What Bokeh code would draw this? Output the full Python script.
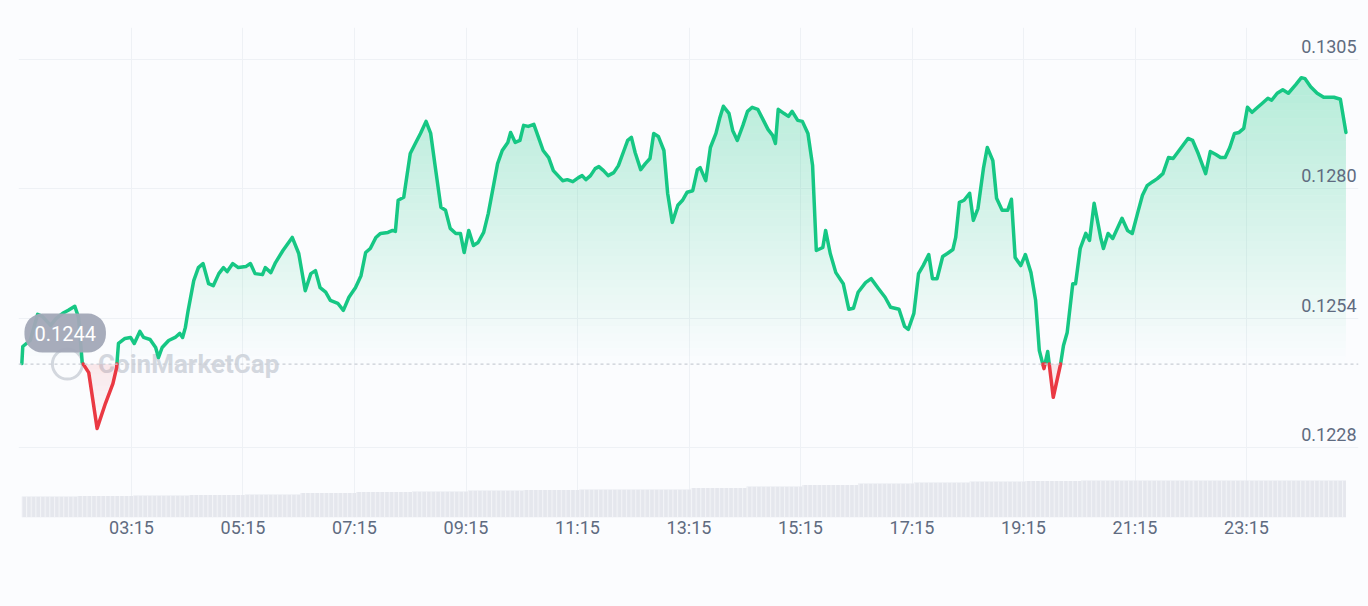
import numpy as np
from bokeh.plotting import figure
from bokeh.models import Range1d, FixedTicker, Span, Label, Grid
from bokeh.core.properties import value
from bokeh.embed import file_html
from bokeh.resources import INLINE

# ---------------- data ----------------
# time in minutes after 00:00 of the first day (values > 1440 are the next day)
t_min = [
    77, 78, 86, 94, 99, 108, 114, 121, 127, 134, 138, 142, 149, 158, 167, 175, 179, 181, 188, 194,
    198, 204, 208, 215, 221, 224, 228, 235, 242, 247, 250, 253, 256, 262, 267, 272, 278, 283, 289, 294,
    298, 304, 310, 318, 323, 328, 336, 339, 345, 350, 358, 368, 375, 382, 388, 393, 398, 404, 409, 417,
    423, 429, 436, 442, 447, 452, 458, 463, 471, 476, 479, 482, 488, 495, 501, 506, 512, 517, 522, 528,
    533, 538, 544, 549, 553, 558, 563, 568, 574, 579, 585, 589, 594, 600, 603, 608, 613, 617, 622, 628,
    633, 638, 644, 649, 659, 664, 670, 676, 680, 684, 689, 694, 698, 703, 708, 714, 719, 725, 729, 733,
    737, 743, 748, 753, 757, 762, 768, 772, 777, 783, 788, 793, 799, 804, 807, 813, 818, 824, 828, 832,
    838, 842, 847, 853, 858, 863, 869, 874, 880, 885, 888, 891, 897, 902, 906, 912, 917, 923, 928, 932,
    939, 942, 947, 953, 961, 967, 972, 977, 985, 991, 999, 1006, 1012, 1021, 1027, 1031, 1037, 1042, 1047, 1053,
    1057, 1062, 1068, 1073, 1079, 1082, 1086, 1091, 1097, 1101, 1106, 1112, 1116, 1122, 1126, 1132, 1138, 1142, 1146, 1152,
    1157, 1163, 1168, 1172, 1177, 1181, 1187, 1195, 1198, 1202, 1208, 1211, 1216, 1222, 1226, 1231, 1238, 1241, 1246, 1251,
    1261, 1267, 1272, 1278, 1283, 1288, 1294, 1299, 1305, 1311, 1316, 1324, 1332, 1337, 1343, 1351, 1356, 1362, 1367, 1372,
    1377, 1382, 1387, 1392, 1396, 1401, 1407, 1412, 1418, 1422, 1428, 1434, 1440, 1448, 1454, 1458, 1464, 1471, 1478, 1489,
    1496, 1502,
]
price = [
    0.12450, 0.12484, 0.12496, 0.12548, 0.12544, 0.12526, 0.12540, 0.12550, 0.12556, 0.12564,
    0.12542, 0.12452, 0.12432, 0.12321, 0.12371, 0.12410, 0.12442, 0.12490, 0.12500, 0.12502,
    0.12490, 0.12514, 0.12502, 0.12498, 0.12482, 0.12462, 0.12482, 0.12496, 0.12502, 0.12510,
    0.12502, 0.12522, 0.12556, 0.12615, 0.12641, 0.12649, 0.12609, 0.12605, 0.12629, 0.12641,
    0.12633, 0.12649, 0.12641, 0.12643, 0.12649, 0.12629, 0.12627, 0.12641, 0.12631, 0.12651,
    0.12675, 0.12701, 0.12669, 0.12595, 0.12629, 0.12635, 0.12601, 0.12592, 0.12576, 0.12570,
    0.12556, 0.12582, 0.12601, 0.12625, 0.12671, 0.12679, 0.12701, 0.12709, 0.12711, 0.12715,
    0.12713, 0.12775, 0.12781, 0.12868, 0.12890, 0.12908, 0.12932, 0.12908, 0.12840, 0.12761,
    0.12755, 0.12719, 0.12709, 0.12709, 0.12671, 0.12715, 0.12685, 0.12691, 0.12711, 0.12749,
    0.12808, 0.12848, 0.12874, 0.12890, 0.12910, 0.12890, 0.12894, 0.12924, 0.12922, 0.12926,
    0.12900, 0.12874, 0.12860, 0.12834, 0.12814, 0.12816, 0.12812, 0.12820, 0.12824, 0.12816,
    0.12824, 0.12838, 0.12842, 0.12834, 0.12824, 0.12830, 0.12844, 0.12874, 0.12894, 0.12900,
    0.12870, 0.12836, 0.12848, 0.12858, 0.12908, 0.12902, 0.12874, 0.12789, 0.12731, 0.12765,
    0.12775, 0.12791, 0.12794, 0.12836, 0.12840, 0.12814, 0.12880, 0.12908, 0.12938, 0.12962,
    0.12948, 0.12914, 0.12894, 0.12924, 0.12952, 0.12960, 0.12956, 0.12938, 0.12916, 0.12904,
    0.12888, 0.12956, 0.12948, 0.12942, 0.12952, 0.12934, 0.12932, 0.12908, 0.12844, 0.12675,
    0.12681, 0.12715, 0.12669, 0.12631, 0.12609, 0.12558, 0.12560, 0.12592, 0.12611, 0.12619,
    0.12599, 0.12582, 0.12562, 0.12558, 0.12524, 0.12518, 0.12550, 0.12629, 0.12645, 0.12667,
    0.12619, 0.12619, 0.12663, 0.12669, 0.12677, 0.12701, 0.12771, 0.12775, 0.12789, 0.12735,
    0.12759, 0.12840, 0.12880, 0.12854, 0.12779, 0.12755, 0.12755, 0.12777, 0.12661, 0.12645,
    0.12667, 0.12631, 0.12576, 0.12476, 0.12440, 0.12474, 0.12383, 0.12450, 0.12486, 0.12512,
    0.12609, 0.12609, 0.12679, 0.12709, 0.12695, 0.12769, 0.12701, 0.12679, 0.12709, 0.12699,
    0.12739, 0.12715, 0.12709, 0.12751, 0.12785, 0.12804, 0.12812, 0.12818, 0.12828, 0.12860,
    0.12858, 0.12878, 0.12898, 0.12894, 0.12868, 0.12828, 0.12872, 0.12866, 0.12860, 0.12860,
    0.12880, 0.12908, 0.12910, 0.12918, 0.12960, 0.12950, 0.12960, 0.12968, 0.12978, 0.12974,
    0.12988, 0.12995, 0.12988, 0.13005, 0.13019, 0.13017, 0.13001, 0.12988, 0.12980, 0.12980,
    0.12976, 0.12910,
]
# hourly traded volume (arbitrary units)
volume_hourly = [21, 21.5, 22, 22.5, 23, 24.5, 25.5, 26, 27, 27.5, 28, 28,
                 29.5, 31, 32.5, 34, 35, 36, 36.5, 37, 37, 37, 37, 37]

baseline_price = 0.12449
baseline_label = "0.1244"

x_ticks = [195, 315, 435, 555, 675, 795, 915, 1035, 1155, 1275, 1395]
x_labels = ["03:15", "05:15", "07:15", "09:15", "11:15", "13:15",
            "15:15", "17:15", "19:15", "21:15", "23:15"]
y_ticks = [0.12283, 0.12540, 0.12798, 0.13055]
y_labels = ["0.1228", "0.1254", "0.1280", "0.1305"]

# ---------------- style ----------------
BG = "#fbfcfe"
GREEN = "#16c784"
RED = "#ea3943"
GRID = "#eef1f5"
LABEL = "#5f6b80"
WM = "#d3d7de"

X0, X1 = 73.4, 1515.5
Y0, Y1 = 0.121437, 0.131188

p = figure(width=1366, height=600, output_backend="svg", toolbar_location=None,
           x_range=Range1d(X0, X1), y_range=Range1d(Y0, Y1),
           y_axis_location=None,
           min_border_left=18, min_border_right=8, min_border_top=27, min_border_bottom=83,
           background_fill_color=BG, border_fill_color=BG, outline_line_color=None)

p.xaxis.ticker = FixedTicker(ticks=x_ticks)
p.xaxis.major_label_overrides = dict(zip(x_ticks, x_labels))
p.xaxis.axis_line_color = None
p.xaxis.major_tick_line_color = None
p.xaxis.minor_tick_line_color = None
p.xaxis.major_tick_out = 0
p.xaxis.major_tick_in = 0
p.xaxis.major_label_standoff = -1
p.xaxis.major_label_text_font = "Roboto"
p.xaxis.major_label_text_font_size = "18px"
p.xaxis.major_label_text_color = LABEL

# keep only the x grid created by figure, then add the price grid
p.center = [r for r in p.center if not (isinstance(r, Grid) and r.dimension == 1)]
p.xgrid.ticker = FixedTicker(ticks=x_ticks)
p.xgrid.grid_line_color = GRID
p.xgrid.grid_line_width = 1
p.add_layout(Grid(dimension=1, ticker=FixedTicker(ticks=y_ticks),
                  grid_line_color=GRID, grid_line_width=1))

# volume bars
p.extra_y_ranges = {"vol": Range1d(0, 490)}
t_start, t_end = t_min[0], t_min[-1]
v_left = [t_start + 60 * i for i in range(len(volume_hourly))]
v_right = [min(l + 60, t_end) for l in v_left]
p.quad(left=v_left, right=v_right, bottom=0, top=volume_hourly, y_range_name="vol",
       fill_color="#e5e7ed", line_color=None,
       hatch_pattern="|", hatch_color="#f4f5f8", hatch_scale=4.65, hatch_weight=1)

# watermark
p.scatter(x=[126], y=[baseline_price], marker="circle", size=30,
          fill_color=None, line_color=WM, line_width=3)
p.text(x=[159], y=[baseline_price], text=["CoinMarketCap"], text_align="left",
       text_baseline="middle", text_font=value("Roboto"), text_font_style="bold",
       text_font_size="26px", text_color=WM)

# baseline
p.add_layout(Span(location=baseline_price, dimension="width", line_color="#c9cdd5",
                  line_width=1.2, line_dash="3 3"))

x = np.array(t_min, dtype=float)
y = np.array(price, dtype=float)


def with_crossings(xa, ya, level):
    xs, ys = [xa[0]], [ya[0]]
    for i in range(1, len(xa)):
        y0, y1 = ya[i - 1], ya[i]
        if (y0 - level) * (y1 - level) < 0:
            f = (level - y0) / (y1 - y0)
            xs.append(xa[i - 1] + f * (xa[i] - xa[i - 1]))
            ys.append(level)
        xs.append(xa[i])
        ys.append(ya[i])
    return np.array(xs), np.array(ys)


b = baseline_price
# green gradient fill: non-overlapping horizontal bands, opacity grows upward
TOP = 0.1306
A_G = 0.33
N = 40
for k in range(N):
    lo = b + k * (TOP - b) / N
    hi = b + (k + 1) * (TOP - b) / N
    if max(price) <= lo:
        break
    xs2, ys2 = with_crossings(*with_crossings(x, y, lo), hi)
    p.varea(x=xs2, y1=np.full_like(ys2, lo), y2=np.clip(ys2, lo, hi),
            fill_color=GREEN, fill_alpha=A_G * (k + 0.5) / N)

# red gradient fill: bands below the baseline, opacity fades downward
DEPTH = b - min(price)
A_R = 0.11
M = 12
for k in range(M):
    hi = b - k * DEPTH / M
    lo = b - (k + 1) * DEPTH / M
    xs2, ys2 = with_crossings(*with_crossings(x, y, hi), lo)
    p.varea(x=xs2, y1=np.clip(ys2, lo, hi), y2=np.full_like(ys2, hi),
            fill_color=RED, fill_alpha=A_R * (1 - (k + 0.5) / M))

# baseline price pill
p.add_layout(Label(x=79.8, y=b, y_offset=31, text=baseline_label,
                   text_align="left", text_baseline="middle",
                   text_color="white", text_font="Roboto", text_font_size="20px",
                   background_fill_color="#a2a8b7", background_fill_alpha=0.95,
                   border_radius=18, padding=(10, 12)))

# price line coloured against baseline
xs2, ys2 = with_crossings(x, y, b)
p.line(xs2, np.where(ys2 >= b, ys2, np.nan), line_color=GREEN, line_width=3.5,
       line_join="round", line_cap="round")
p.line(xs2, np.where(ys2 <= b, ys2, np.nan), line_color=RED, line_width=3.5,
       line_join="round", line_cap="round")

# price labels on the right
p.text(x=[X1] * len(y_ticks), y=y_ticks, text=y_labels, text_align="right",
       text_baseline="alphabetic", x_offset=-2, y_offset=-13,
       text_font=value("Roboto"), text_font_size="18px", text_color=LABEL)

html = file_html(p, INLINE)
html = html.replace("<head>", "<head><style>body{background:%s;}</style>" % BG, 1)
open("out.html", "w").write(html)
